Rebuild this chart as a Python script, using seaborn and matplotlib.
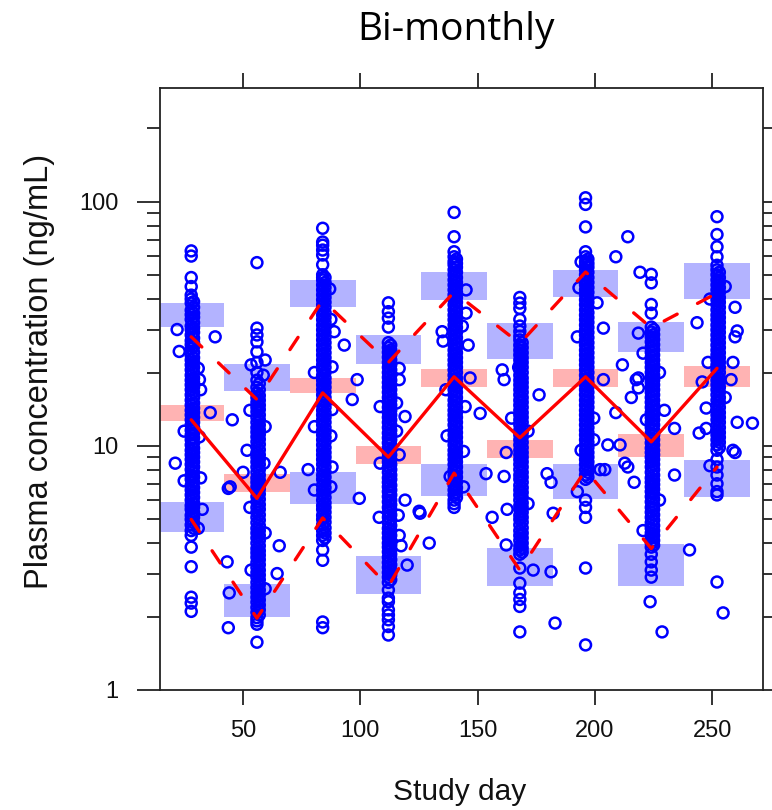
import numpy as np
import pandas as pd
import matplotlib
matplotlib.use('Agg')
import matplotlib.pyplot as plt
from matplotlib import font_manager
from matplotlib.ticker import LogLocator, NullFormatter
import seaborn as sns

# --- nominal sampling days (one VPC bin per day) ---
days = [28, 56, 84, 112, 140, 168, 196, 224, 252]
bin_width = 28

# --- simulated CI boxes (ng/mL) ---
p95_lo = [30.7, 16.8, 37.1, 21.6, 39.5, 22.8, 40.8, 24.2, 40.2]
p95_hi = [38.5, 21.6, 47.9, 28.4, 51.6, 31.8, 52.8, 32.2, 56.0]
p50_lo = [12.6, 6.5, 16.5, 8.4, 17.4, 8.9, 17.4, 9.0, 17.4]
p50_hi = [14.7, 7.7, 19.0, 10.0, 20.6, 10.6, 20.7, 11.2, 21.3]
p05_lo = [4.45, 2.0, 5.8, 2.48, 6.25, 2.68, 6.05, 2.68, 6.2]
p05_hi = [5.9, 2.72, 7.8, 3.54, 8.45, 3.82, 8.4, 3.97, 8.8]

# --- observed percentiles (red lines) ---
obs_p50 = [12.8, 6.1, 16.5, 9.0, 19.2, 10.8, 19.2, 10.4, 20.8]
obs_p95 = [28.0, 15.5, 39.6, 22.0, 42.7, 26.3, 51.6, 30.5, 42.3]
obs_p05 = [5.0, 1.97, 5.07, 2.66, 7.74, 3.1, 7.97, 3.8, 8.2]

# --- observed concentrations sampled on the nominal day ---
col_28 = [63, 60, 49, 45, 41.5, 40, 38.5, 36, 34.5, 33, 31, 30, 28.5, 27, 26, 25, 23.5,
          22.5, 21.5, 20.5, 19.5, 18.6, 17.8, 17, 16.2, 15.4, 14.7, 14, 13.4, 12.8, 12.2,
          11.6, 11.1, 10.6, 10.1, 9.6, 9.2, 8.8, 8.4, 8.0, 7.6, 7.3, 6.9, 6.6, 6.3, 6.0,
          5.7, 5.5, 5.2, 5.0, 4.75, 4.5, 4.3, 3.85, 3.2, 2.4, 2.27, 2.1]
col_56 = [56.4, 30.4, 28.5, 26.7, 24.3, 22, 20, 18.6, 17.4, 16.5, 15.8, 15.1, 14.4, 13.8,
          13.1, 12.5, 11.9, 11.4, 10.9, 10.4, 9.9, 9.4, 9.0, 8.6, 8.2, 7.8, 7.4, 7.1, 6.8,
          6.5, 6.2, 5.9, 5.6, 5.35, 5.1, 4.85, 4.6, 4.4, 4.2, 4.0, 3.8, 3.65, 3.5, 3.33,
          3.18, 3.03, 2.9, 2.76, 2.63, 2.51, 2.4, 2.29, 2.18, 2.08, 1.98, 1.92, 1.86, 1.57]
col_84 = [78, 68.5, 66.5, 63.5, 60.6, 55.3, 50.3, 49, 47.9, 45.7, 43.6, 41.6, 39.7, 37.9,
          36.1, 34.4, 32.9, 31.3, 29.9, 28.5, 27.2, 25.9, 24.7, 23.6, 22.5, 21.5, 20.5, 19.5,
          18.6, 17.8, 17, 16.2, 15.4, 14.7, 14, 13.4, 12.8, 12.2, 11.6, 11.1, 10.6, 10.1,
          9.6, 9.2, 8.8, 8.4, 8.0, 7.6, 7.3, 6.9, 6.6, 6.3, 6.0, 5.7, 5.5, 5.2, 5.0, 4.75,
          4.5, 4.3, 4.1, 3.75, 3.4, 1.9, 1.8]
col_112 = [38.6, 35.5, 33.4, 30.7, 26.5, 25.3, 24.2, 23.1, 22, 21, 20, 19.1, 18.2, 17.4,
           16.6, 15.8, 15.1, 14.4, 13.7, 13.1, 12.5, 11.9, 11.3, 10.8, 10.3, 9.8, 9.4, 9.0,
           8.6, 8.2, 7.8, 7.4, 7.1, 6.8, 6.5, 6.2, 5.9, 5.6, 5.35, 5.1, 4.85, 4.6, 4.4, 4.2,
           4.0, 3.85, 3.68, 3.5, 3.33, 3.18, 3.03, 2.9, 2.76, 2.57, 2.38, 2.3, 2.13, 2.03,
           1.94, 1.82, 1.68]
col_140 = [90.6, 72, 62.5, 59.6, 57, 55.3, 52.7, 50.3, 47.9, 45.7, 43.6, 41.6, 39.7, 37.9,
           36.1, 34.4, 32.9, 31.3, 29.9, 28.5, 27.2, 25.9, 24.7, 23.6, 22.5, 21.5, 20.5,
           19.5, 18.6, 17.8, 17, 16.2, 15.4, 14.7, 14, 13.4, 12.8, 12.2, 11.6, 11.1, 10.6,
           10.1, 9.6, 9.2, 8.8, 8.4, 8.0, 7.6, 7.3, 6.9, 6.6, 6.3, 6.0, 5.8, 5.6]
col_168 = [40.6, 38.5, 36.6, 33, 31, 29.5, 28.2, 27.2, 25.9, 24.7, 23.6, 22.5, 21.5, 20.5,
           19.5, 18.6, 17.8, 17, 16.2, 15.4, 14.7, 14, 13.4, 12.8, 12.2, 11.6, 11.1, 10.6,
           10.1, 9.6, 9.2, 8.8, 8.4, 8.0, 7.6, 7.3, 6.9, 6.6, 6.3, 6.0, 5.7, 5.5, 5.2, 5.0,
           4.75, 4.5, 4.3, 4.1, 3.9, 3.75, 3.6, 3.16, 2.74, 2.5, 2.35, 2.2, 1.73]
col_196 = [104, 97.7, 79, 62.5, 59.6, 57, 55.3, 52.7, 50.3, 47.9, 45.7, 43.6, 41.6, 39.7,
           37.9, 36.1, 34.4, 32.9, 31.3, 29.9, 28.5, 27.2, 25.9, 24.7, 23.6, 22.5, 21.5,
           20.5, 19.5, 18.6, 17.8, 17, 16.2, 15.4, 14.7, 14, 13.4, 12.8, 12.2, 11.6, 11.1,
           10.6, 10.1, 9.6, 9.2, 8.8, 8.4, 8.0, 7.6, 7.3, 6.0, 5.6, 5.1, 3.16, 1.53]
col_224 = [50.5, 46.6, 38, 35, 30.7, 29.3, 28, 26.7, 25.4, 24.2, 23.1, 22, 21, 20, 19.1,
           18.2, 17.4, 16.6, 15.8, 15.1, 14.4, 13.7, 13.1, 12.5, 11.9, 11.3, 10.8, 10.3, 9.8,
           9.4, 9.0, 8.6, 8.2, 7.8, 7.4, 7.1, 6.8, 6.5, 6.2, 5.9, 5.6, 5.35, 5.1, 4.85, 4.6,
           4.4, 4.2, 4.0, 3.85, 3.6, 3.35, 3.1, 2.9]
col_252 = [87, 73.5, 65.5, 59.6, 55, 52.7, 50.3, 47.9, 45.7, 43.6, 41.6, 39.7, 37.9, 36.1,
           34.4, 32.9, 31.3, 29.9, 28.5, 27.2, 25.9, 24.7, 23.6, 22.5, 21.5, 20.5, 19.5,
           18.6, 17.8, 17, 16.2, 15.4, 14.7, 14, 13.4, 12.8, 12.2, 11.6, 11.1, 10.6, 10.1,
           9.6, 8.8, 8.2, 7.6, 7.0, 6.5, 6.3, 2.77]

# --- observed concentrations sampled one day after the nominal day ---
late_28 = [39, 37, 35, 33.7, 32, 30.5, 29.2, 27.7, 26.5, 25.5, 24.2, 23, 22, 21, 20, 19,
           18.2, 17.4, 16.6, 15.8, 15, 14.3, 13.7, 13.1, 12.5, 11.9, 11.3, 10.8, 10.3, 9.8,
           9.4, 9.0, 8.6, 8.2, 7.8, 7.45, 7.1, 6.75, 6.45, 6.15, 5.85, 5.6, 5.35, 5.1, 4.85,
           4.6]
late_56 = [18, 17, 16.1, 15.4, 14.7, 14.1, 13.4, 12.8, 12.2, 11.65, 11.15, 10.65, 10.15,
           9.65, 9.2, 8.8, 8.4, 8.0, 7.6, 7.25, 6.95, 6.65, 6.35, 6.05, 5.75, 5.5, 5.22,
           4.97, 4.72, 4.5, 4.3, 4.1, 3.9, 3.72, 3.57, 3.42, 3.26, 3.1, 2.96, 2.83, 2.7,
           2.57, 2.45, 2.34, 2.23, 2.13, 2.03]
late_84 = [49, 46.8, 44.6, 42.6, 40.6, 38.8, 37, 35.2, 33.6, 32.1, 30.6, 29.2, 27.8, 26.5,
           25.3, 24.1, 23, 22, 21, 20, 19, 18.2, 17.4, 16.6, 15.8, 15.1, 14.4, 13.7, 13.1,
           12.5, 11.9, 11.35, 10.85, 10.35, 9.85, 9.4, 9.0, 8.6, 8.2, 7.8, 7.45, 7.1, 6.75,
           6.45, 6.15, 5.85, 5.6, 5.35, 5.1, 4.87, 4.62, 4.4, 4.2]
late_112 = [25.9, 24.7, 23.6, 22.5, 21.5, 20.5, 19.5, 18.6, 17.8, 17, 16.2, 15.4, 14.7, 14,
            13.4, 12.8, 12.2, 11.6, 11.1, 10.6, 10.1, 9.6, 9.2, 8.8, 8.4, 8.0, 7.6, 7.3,
            6.9, 6.6, 6.3, 6.0, 5.75, 5.5, 5.22, 4.97, 4.72, 4.5, 4.3, 4.1, 3.92, 3.76, 3.6,
            3.42, 3.26, 3.1, 2.96, 2.83]
late_140 = [58.3, 56, 54, 51.5, 49, 46.8, 44.6, 42.6, 40.6, 38.8, 37, 35.2, 33.6, 32.1,
            30.6, 29.2, 27.8, 26.5, 25.3, 24.1, 23, 22, 21, 20, 19, 18.2, 17.4, 16.6, 15.8,
            15.1, 14.4, 13.7, 13.1, 12.5, 11.9, 11.35, 10.85, 10.35, 9.85, 9.4, 9.0, 8.6,
            8.2, 7.8, 7.45, 7.1, 6.75, 6.45, 6.15]
late_168 = [26.5, 25.3, 24.1, 23, 22, 21, 20, 19, 18.2, 17.4, 16.6, 15.8, 15.1, 14.4, 13.7,
            13.1, 12.5, 11.9, 11.35, 10.85, 10.35, 9.85, 9.4, 9.0, 8.6, 8.2, 7.8, 7.45, 7.1,
            6.75, 6.45, 6.15, 5.85, 5.6, 5.35, 5.1, 4.87, 4.62, 4.4, 4.2, 4.0, 3.82, 3.67]
late_196 = [58.3, 56, 54, 51.5, 49, 46.8, 44.6, 42.6, 40.6, 38.8, 37, 35.2, 33.6, 32.1,
            30.6, 29.2, 27.8, 26.5, 25.3, 24.1, 23, 22, 21, 20, 19, 18.2, 17.4, 16.6, 15.8,
            15.1, 14.4, 13.7, 13.1, 12.5, 11.9, 11.35, 10.85, 10.35, 9.85, 9.4, 9.0, 8.6,
            8.2, 7.8, 7.45]
late_224 = [30, 28.6, 27.3, 26, 24.8, 23.6, 22.5, 21.5, 20.5, 19.5, 18.6, 17.8, 17, 16.2,
            15.4, 14.7, 14, 13.4, 12.8, 12.2, 11.6, 11.1, 10.6, 10.1, 9.6, 9.2, 8.8, 8.4,
            8.0, 7.6, 7.25, 6.95, 6.65, 6.35, 6.05, 5.75, 5.5, 5.22, 4.97, 4.72, 4.5, 4.3,
            4.1, 3.92]
late_252 = [51.5, 49, 46.8, 44.6, 42.6, 40.6, 38.8, 37, 35.2, 33.6, 32.1, 30.6, 29.2, 27.8,
            26.5, 25.3, 24.1, 23, 22, 21, 20, 19, 18.2, 17.4, 16.6, 15.8, 15.1, 14.4, 13.7,
            13.1, 12.5, 11.9, 11.35, 10.85, 10.35, 9.85]

# --- observed concentrations away from the nominal day ---
scatter_day = [22.0, 38.2, 22.9, 31.0, 36.1, 45.5, 21.2, 44.6, 32.7, 31.5, 32.0, 31.5, 25.0,
               32.0, 25.0, 31.0,
               50.1, 43.8, 65.9, 51.8, 43.3, 44.2, 43.8, 65.5, 64.6, 59.5, 58.7, 53.5, 59.5,
               53.0, 59.5, 53.0, 59.5, 59.0, 53.5,
               88.9, 93.2, 88.0, 98.7, 96.6, 88.0, 77.8, 88.0, 99.6, 87.5, 80.5, 87.5, 80.5,
               87.0, 80.5, 87.5,
               119.1, 116.6, 119.1, 108.1, 125.1, 116.6, 117.4, 129.4, 120.0, 116.2, 116.6,
               116.6, 115.5, 108.5, 115.5, 108.5,
               145.1, 145.1, 134.9, 135.3, 146.0, 146.8, 151.1, 153.6, 138.3, 125.5, 144.7,
               143.5, 137.0, 144.0, 136.5, 144.0,
               162.2, 173.7, 181.3, 183.0, 160.5, 161.3, 176.2, 162.2, 161.3, 179.6, 181.3,
               156.2, 182.2, 167.5, 162.6, 171.5, 171.5, 164.5,
               194.1, 193.2, 208.9, 214.0, 203.6, 203.6, 211.7, 218.5, 218.5, 194.1, 202.2,
               210.7, 208.9, 212.7, 219.2, 200.9, 199.5, 192.5, 199.5, 192.5,
               218.5, 217.6, 215.5, 221.9, 229.6, 233.9, 214.0, 205.5, 204.2, 233.9, 240.3,
               223.5, 228.6, 216.7, 227.5, 220.5, 227.5, 220.5,
               243.5, 259.7, 260.6, 259.7, 258.8, 248.2, 245.7, 260.6, 267.1, 259.7, 247.4,
               247.4, 244.4, 258.8, 258.0, 254.6, 255.5, 249.0, 255.5, 249.0]
scatter_conc = [30, 28, 24.4, 20.8, 13.7, 12.8, 8.5, 6.8, 5.5, 18.7, 17, 10.9, 11.5, 7.4,
                7.2, 4.6,
                7.8, 6.7, 7.8, 9.6, 3.35, 2.5, 1.8, 3.9, 3.0, 22.5, 19.5, 21.5, 12.0,
                14.0, 4.4, 5.6, 2.6, 8.5, 3.1,
                29.4, 25.9, 21.1, 18.7, 15.5, 14.1, 8.0, 8.2, 6.1, 6.8, 6.6, 33, 20, 44,
                12, 11,
                13.2, 9.2, 6.0, 5.1, 5.4, 4.3, 3.9, 4.0, 3.25, 5.2, 18.7, 20.8, 15, 8.5,
                11.5, 14.5,
                43.6, 35, 29.4, 26.9, 25.9, 19, 13.6, 7.7, 7.5, 5.3, 14.5, 31, 11, 9.5,
                17, 6.8,
                3.93, 3.1, 3.05, 1.88, 20.5, 18.7, 16.2, 9.4, 7.5, 7.7, 7.1, 5.1, 5.3, 21,
                5.5, 11.5, 5.8, 13,
                56.8, 44.5, 59.6, 72, 30.4, 18.7, 21.5, 19, 17.3, 9.6, 8.0, 10.1, 13.7, 8.5,
                51.5, 38.6, 13, 28, 10.6, 6.5,
                29, 18.7, 15.8, 12.8, 14, 11.8, 8.2, 10.1, 8.0, 7.6, 3.75, 2.3, 1.73, 7.1,
                20, 24, 6.0, 4.5,
                32, 37, 29.6, 28, 22, 22, 18.3, 12.5, 12.4, 9.4, 14.3, 11.8, 11.3, 9.6,
                18.7, 2.07, 45, 40, 15.8, 8.3]

# --- assemble observations ---
on_day = [col_28, col_56, col_84, col_112, col_140, col_168, col_196, col_224, col_252]
day_after = [late_28, late_56, late_84, late_112, late_140, late_168, late_196, late_224,
             late_252]
obs_day, obs_conc = [], []
for d, col, late in zip(days, on_day, day_after):
    obs_day += [d] * len(col) + [d + 1] * len(late)
    obs_conc += col + late
obs_day += scatter_day
obs_conc += scatter_conc
df_obs = pd.DataFrame({'day': obs_day, 'conc': obs_conc})
df_lines = pd.DataFrame({'day': days, 'p50': obs_p50, 'p95': obs_p95, 'p05': obs_p05})

# --- style / fonts ---
sns.set_theme(style='ticks')
avail = {f.name for f in font_manager.fontManager.ttflist}
if 'Liberation Sans Narrow' in avail:
    tick_font, tick_size, xlab_size = 'Liberation Sans Narrow', 20, 24
else:
    tick_font, tick_size, xlab_size = 'Liberation Sans', 17, 21.5
plt.rcParams['font.family'] = [tick_font, 'DejaVu Sans']

fig = plt.figure(figsize=(7.72, 8.10), dpi=100)
ax = fig.add_axes([160 / 772, 120 / 810, 603 / 772, 602 / 810])
ax.set_yscale('log')

# shaded CI boxes
box_blue = '#b3b3ff'
box_pink = '#ffb3b3'
for lo, hi, col in [(p95_lo, p95_hi, box_blue), (p50_lo, p50_hi, box_pink),
                    (p05_lo, p05_hi, box_blue)]:
    ax.bar(days, np.array(hi) - np.array(lo), bottom=lo, width=bin_width,
           color=col, edgecolor='none', zorder=1)

# observed points (open circles, heavy overlap makes the solid columns)
sns.scatterplot(data=df_obs, x='day', y='conc', ax=ax, marker='o', s=62,
                color='#0000ff', facecolor='none', edgecolor='#0000ff',
                linewidth=1.8, zorder=2, legend=False)

# observed percentiles
sns.lineplot(data=df_lines, x='day', y='p50', ax=ax, color='#ff0000', lw=2.4,
             estimator=None, sort=False, solid_capstyle='round', zorder=3)
for col in ['p95', 'p05']:
    sns.lineplot(data=df_lines, x='day', y=col, ax=ax, color='#ff0000', lw=2.4,
                 estimator=None, sort=False, linestyle=(0, (4.4, 6.9)),
                 dash_capstyle='round', zorder=3)

# axes
ax.set_xlim(14.7, 271.6)
ax.set_ylim(1, 293)
ax.set_xticks([50, 100, 150, 200, 250])
ax.set_xticklabels(['50', '100', '150', '200', '250'])
ax.set_yticks([1, 10, 100])
ax.set_yticklabels(['1', '10', '100'])
ax.yaxis.set_minor_locator(LogLocator(base=10, subs=np.arange(2, 10)))
ax.yaxis.set_minor_formatter(NullFormatter())
ax.xaxis.set_minor_locator(plt.NullLocator())
ax.set_xlabel('')
ax.set_ylabel('')

for sp in ax.spines.values():
    sp.set_visible(True)
    sp.set_linewidth(1.3)
    sp.set_color('#222222')
ax.tick_params(axis='both', which='both', direction='out', top=True, right=True,
               bottom=True, left=True, labeltop=False, labelright=False,
               color='#222222', labelcolor='#111111', width=1.3)
ax.tick_params(axis='x', which='major', length=10.5, pad=11, labelsize=tick_size)
ax.tick_params(axis='y', which='major', length=16.5, pad=13.5, labelsize=tick_size)
ax.tick_params(axis='y', which='minor', length=9.5)

# titles and labels
fig.text(456 / 772, 1 - 40 / 810, 'Bi-monthly', family=['Open Sans', 'DejaVu Sans'],
         fontsize=28, ha='center', va='baseline', color='black')
fig.text(40 / 772, 1 - 371 / 810, 'Plasma concentration (ng/mL)',
         family=['Liberation Sans', 'DejaVu Sans'], fontsize=23.5, rotation=90,
         ha='center', va='center', color='#111111')
fig.text(460 / 772, 1 - 792 / 810, 'Study day', family=[tick_font, 'DejaVu Sans'],
         fontsize=xlab_size, ha='center', va='center', color='#111111')

fig.savefig('out.png', dpi=100)
